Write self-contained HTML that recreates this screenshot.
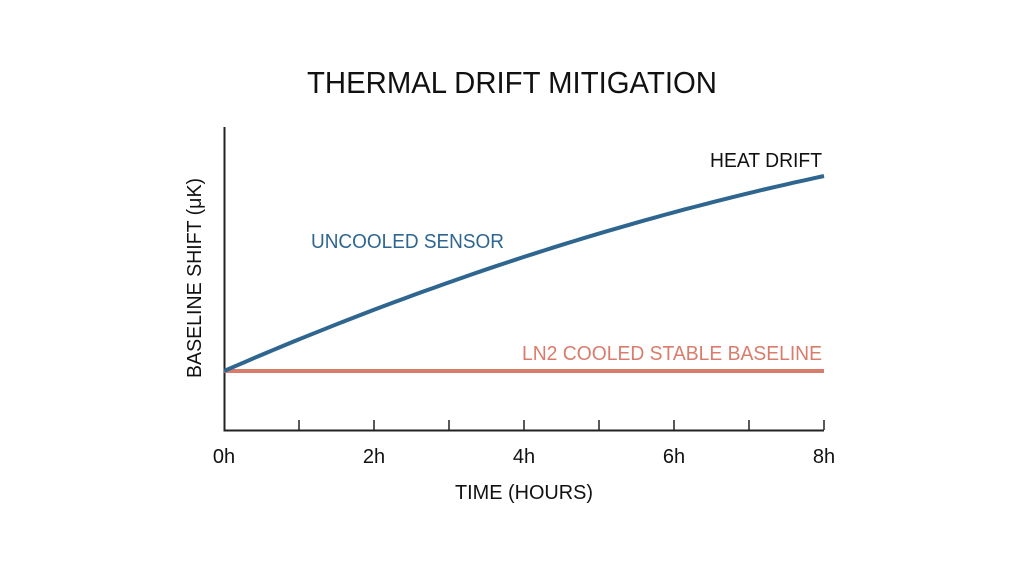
<!DOCTYPE html>
<html><head><style>
body{margin:0;background:#fff;}
svg text{font-family:"Liberation Sans",sans-serif;}
</style></head><body>
<svg width="1024" height="572" viewBox="0 0 1024 572" xmlns="http://www.w3.org/2000/svg">
<rect width="1024" height="572" fill="#fff"/>
<text x="512" y="93" font-size="31" text-anchor="middle" fill="#111" textLength="410" lengthAdjust="spacingAndGlyphs">THERMAL DRIFT MITIGATION</text>
<g stroke="#222" stroke-width="2" fill="none">
<path d="M224.5 127V430.5H824"/>
<path d="M299 430V420M374 430V420M449 430V420M524 430V420M599 430V420M674 430V420M749 430V420M824 430V420" stroke-width="1.5"/>
</g>
<line x1="224" y1="371" x2="824" y2="371" stroke="#d97c6c" stroke-width="4"/>
<path id="c" fill="none" stroke="#2f6690" stroke-width="4" d=""/>
<g font-size="20" fill="#111" text-anchor="middle">
<text x="224" y="463">0h</text><text x="374" y="463">2h</text><text x="524" y="463">4h</text><text x="674" y="463">6h</text><text x="824" y="463">8h</text>
<text x="524" y="499" textLength="138" lengthAdjust="spacingAndGlyphs">TIME (HOURS)</text>
<text transform="translate(201,278) rotate(-90)" textLength="200" lengthAdjust="spacingAndGlyphs">BASELINE SHIFT (μK)</text>
</g>
<text x="822" y="167" font-size="20" fill="#111" text-anchor="end" textLength="112" lengthAdjust="spacingAndGlyphs">HEAT DRIFT</text>
<text x="311" y="248" font-size="20" fill="#2f6690" textLength="193" lengthAdjust="spacingAndGlyphs">UNCOOLED SENSOR</text>
<text x="822" y="360" font-size="20" fill="#d97c6c" text-anchor="end" textLength="300" lengthAdjust="spacingAndGlyphs">LN2 COOLED STABLE BASELINE</text>
</svg>
<script>
var d="";for(var i=0;i<=60;i++){var t=i/60;var x=224+600*t;var f=1.34*t-0.34*t*t;var y=371-195*f;d+=(i?"L":"M")+x.toFixed(1)+" "+y.toFixed(1);}
document.getElementById("c").setAttribute("d",d);
</script>
</body></html>
